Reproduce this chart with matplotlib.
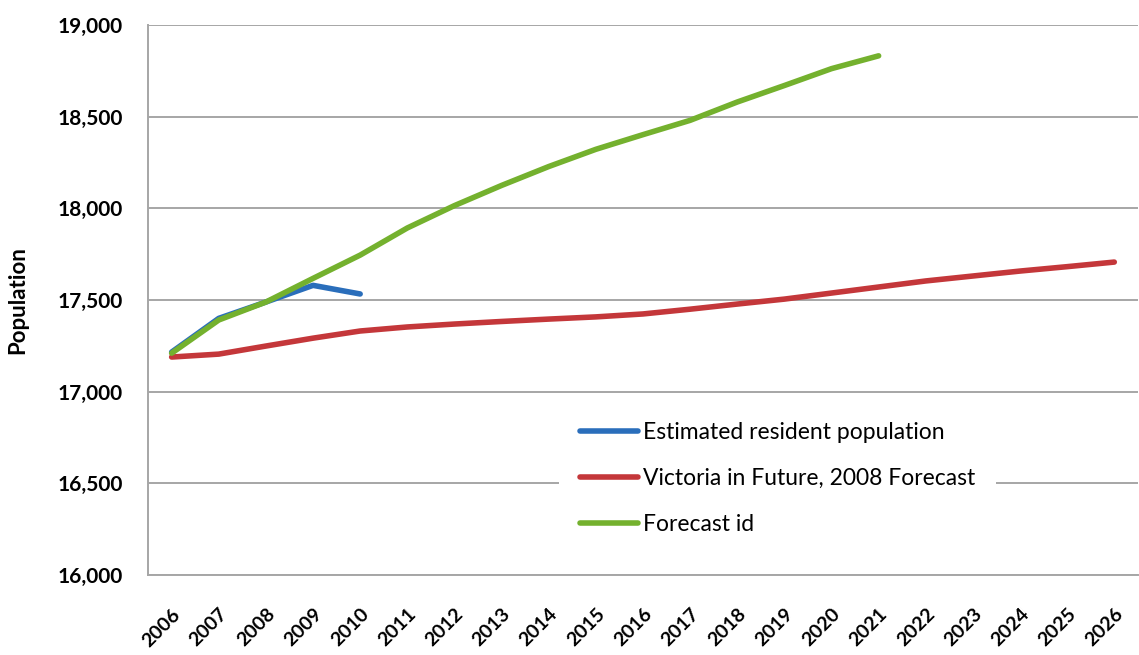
import matplotlib.pyplot as plt
from matplotlib.ticker import FuncFormatter
from matplotlib.transforms import ScaledTranslation

years = [str(y) for y in range(2006, 2027)]

# population series, one value per year
erp = [17216, 17400, 17489, 17580, 17533]
vif_2008 = [17189, 17205, 17249, 17292, 17331, 17353, 17369, 17383, 17396, 17408,
            17424, 17450, 17478, 17505, 17538, 17571, 17604, 17631, 17658, 17682, 17707]
forecast_id = [17210, 17391, 17489, 17618, 17745, 17893, 18015, 18125, 18228, 18322,
               18402, 18480, 18580, 18670, 18762, 18832]

blue = "#2a6ebb"
red = "#c4373a"
green = "#74b12e"
grid_grey = "#a6a6a6"

plt.rcParams["font.family"] = ["Lato", "DejaVu Sans"]

fig = plt.figure(figsize=(11.39, 6.55), dpi=100)
ax = fig.add_axes([0.130, 0.1221, 0.869, 0.8397])

x = list(range(len(years)))
ax.plot(x[:len(erp)], erp, color=blue, lw=4, solid_capstyle="round",
        solid_joinstyle="round", label="Estimated resident population", zorder=3)
ax.plot(x[:len(vif_2008)], vif_2008, color=red, lw=4, solid_capstyle="round",
        solid_joinstyle="round", label="Victoria in Future, 2008 Forecast", zorder=2)
ax.plot(x[:len(forecast_id)], forecast_id, color=green, lw=4, solid_capstyle="round",
        solid_joinstyle="round", label="Forecast id", zorder=4)

ax.set_xlim(-0.5, len(years) - 0.5)
ax.set_ylim(16000, 19000)
ax.set_yticks(range(16000, 19001, 500))
ax.yaxis.set_major_formatter(FuncFormatter(lambda v, _: f"{int(v):,}"))
ax.set_xticks(x)
ax.set_xticklabels(years, rotation=45, ha="right", rotation_mode="anchor",
                   fontsize=14, fontweight="bold")
shift = ScaledTranslation(-11 / 72, 0, fig.dpi_scale_trans)
for lbl in ax.get_xticklabels():
    lbl.set_transform(lbl.get_transform() + shift)
for lbl in ax.get_yticklabels():
    lbl.set_fontsize(15)
    lbl.set_fontweight("bold")
ax.tick_params(axis="y", length=0, pad=18)
ax.tick_params(axis="x", length=0, pad=22)

ax.grid(True, axis="y", color=grid_grey, lw=1.4)
ax.set_axisbelow(True)
for side in ("top", "right"):
    ax.spines[side].set_visible(False)
for side in ("left", "bottom"):
    ax.spines[side].set_color(grid_grey)
    ax.spines[side].set_linewidth(1.4)

ax.set_ylabel("Population", fontsize=16, fontweight="bold")
ax.yaxis.set_label_coords(-0.121, 0.5)

leg = ax.legend(loc="upper left", bbox_to_anchor=(0.404, 0.337), frameon=True,
                fontsize=16.5, handlelength=2.55, handletextpad=0.2, labelspacing=1.1,
                borderpad=0.9, fancybox=False)
leg.get_frame().set_facecolor("white")
leg.get_frame().set_edgecolor("none")
leg.get_frame().set_alpha(1)
leg.set_zorder(5)

fig.savefig("out.png", dpi=100)
